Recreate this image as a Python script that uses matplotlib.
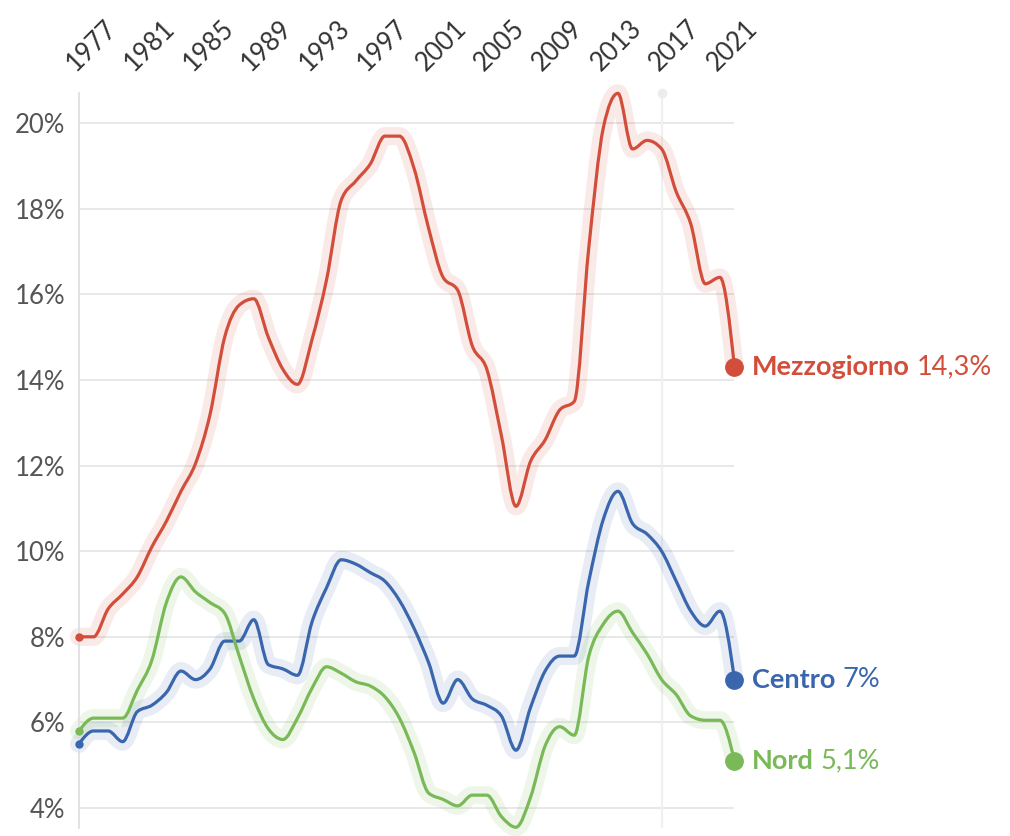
import numpy as np
import matplotlib.pyplot as plt
from matplotlib.path import Path
from matplotlib.patches import PathPatch
from matplotlib.transforms import ScaledTranslation, blended_transform_factory

plt.rcParams['font.family'] = ['Lato', 'DejaVu Sans']

# dati: tasso di disoccupazione per ripartizione (%)
years = list(range(1977, 2023))

mezzogiorno = [8.0, 8.0, 8.65, 9.0, 9.4, 10.1, 10.7, 11.4, 12.05, 13.2,
               15.0, 15.75, 15.9, 15.0, 14.25, 13.9, 14.95, 16.35, 18.2, 18.65,
               19.05, 19.7, 19.7, 18.95, 17.55, 16.4, 16.1, 14.8, 14.25, 12.7,
               11.05, 12.1, 12.6, 13.3, 13.5, 17.1, 19.9, 20.7, 19.4, 19.6,
               19.4, 18.4, 17.65, 16.25, 16.4, 14.3]

centro = [5.5, 5.8, 5.8, 5.55, 6.25, 6.4, 6.7, 7.2, 7.0, 7.25,
          7.9, 7.9, 8.4, 7.35, 7.25, 7.1, 8.35, 9.15, 9.8, 9.7,
          9.5, 9.3, 8.85, 8.2, 7.4, 6.45, 7.0, 6.55, 6.4, 6.15,
          5.35, 6.35, 7.2, 7.55, 7.55, 9.3, 10.75, 11.4, 10.65, 10.4,
          10.0, 9.3, 8.6, 8.25, 8.6, 7.0]

nord = [5.8, 6.1, 6.1, 6.1, 6.75, 7.45, 8.8, 9.4, 9.05, 8.8,
        8.55, 7.55, 6.55, 5.85, 5.6, 6.1, 6.8, 7.3, 7.15, 6.95,
        6.85, 6.6, 6.1, 5.3, 4.35, 4.2, 4.05, 4.3, 4.3, 3.8,
        3.55, 4.25, 5.45, 5.9, 5.7, 7.55, 8.3, 8.6, 8.1, 7.6,
        7.0, 6.65, 6.15, 6.05, 6.05, 5.1]

series_names = ['Mezzogiorno', 'Centro', 'Nord']
end_values = ['14,3%', '7%', '5,1%']
colors = ['#d24e3b', '#3a66ae', '#79b957']

tick_years = list(range(1977, 2022, 4))
y_ticks = [4, 6, 8, 10, 12, 14, 16, 18, 20]
hover_year = 2017


def monotone_path(x, y):
    """curva monotona (tipo d3.curveMonotoneX) come path di Bezier"""
    x = np.asarray(x, float)
    y = np.asarray(y, float)
    n = len(x)
    h = np.diff(x)
    s = np.diff(y) / h
    t = np.zeros(n)
    for i in range(1, n - 1):
        p = (s[i - 1] * h[i] + s[i] * h[i - 1]) / (h[i - 1] + h[i])
        t[i] = (np.sign(s[i - 1]) + np.sign(s[i])) * min(abs(s[i - 1]), abs(s[i]), 0.5 * abs(p))
    t[0] = (3 * s[0] - t[1]) / 2
    t[-1] = (3 * s[-1] - t[-2]) / 2
    verts = [(x[0], y[0])]
    codes = [Path.MOVETO]
    for i in range(n - 1):
        dx = (x[i + 1] - x[i]) / 3
        verts += [(x[i] + dx, y[i] + dx * t[i]),
                  (x[i + 1] - dx, y[i + 1] - dx * t[i + 1]),
                  (x[i + 1], y[i + 1])]
        codes += [Path.CURVE4] * 3
    return Path(verts, codes)


fig = plt.figure(figsize=(10.1, 8.36), dpi=100)
ax = fig.add_axes([0.0782, 0.0096, 0.649, 0.879])

data = [mezzogiorno, centro, nord]

# alone chiaro sotto le linee
for vals, c in zip(data, colors):
    ax.add_patch(PathPatch(monotone_path(years, vals), fill=False, edgecolor=c,
                           alpha=0.12, lw=13, joinstyle='round', capstyle='round',
                           clip_on=False, zorder=2))

for vals, c, name, val in zip(data, colors, series_names, end_values):
    ax.add_patch(PathPatch(monotone_path(years, vals), fill=False, edgecolor=c,
                           lw=2.3, joinstyle='round', capstyle='round',
                           clip_on=False, zorder=3))
    ax.plot(years[0], vals[0], 'o', ms=5, color=c, clip_on=False, zorder=4)
    ax.plot(years[-1], vals[-1], 'o', ms=12.5, color=c, clip_on=False, zorder=4)
    t1 = ax.annotate(name, xy=(years[-1], vals[-1]), xytext=(12.5, 0),
                     textcoords='offset points', fontsize=19.5,
                     fontweight='bold', color=c, ha='left', va='center',
                     annotation_clip=False)
    ax.annotate(val, xy=(1, 0), xycoords=t1, xytext=(5, 0),
                textcoords='offset points', fontsize=19.5, color=c,
                ha='left', va='bottom', annotation_clip=False)

# linea verticale chiara (cursore)
ax.axvline(hover_year, color='#f0f0f0', lw=1.6, zorder=1)
trans = blended_transform_factory(ax.transData, ax.transAxes)
ax.plot([hover_year], [1], 'o', ms=6, color='#ececec', transform=trans,
        clip_on=False, zorder=1)

ax.set_xlim(1977, 2022)
ax.set_ylim(3.533, 20.705)

ax.set_yticks(y_ticks)
ax.set_yticklabels([f'{v}%' for v in y_ticks])
ax.tick_params(axis='y', length=0, pad=10, labelsize=18.5, labelcolor='#555555')

ax.xaxis.tick_top()
ax.set_xticks(tick_years)
ax.set_xticklabels([str(y) for y in tick_years], rotation=45, ha='left',
                   va='baseline', rotation_mode='anchor')
ax.tick_params(axis='x', length=0, pad=15, labelsize=18.5, labelcolor='#333333')
shift = ScaledTranslation(-3 / 100, 0, fig.dpi_scale_trans)
for lab in ax.get_xticklabels():
    lab.set_transform(lab.get_transform() + shift)

ax.grid(axis='y', color='#e4e4e4', lw=1.2)
ax.set_axisbelow(True)
for s in ['top', 'right', 'bottom']:
    ax.spines[s].set_visible(False)
ax.spines['left'].set_color('#dddddd')
ax.spines['left'].set_linewidth(1.2)

fig.savefig('out.png', dpi=100)
